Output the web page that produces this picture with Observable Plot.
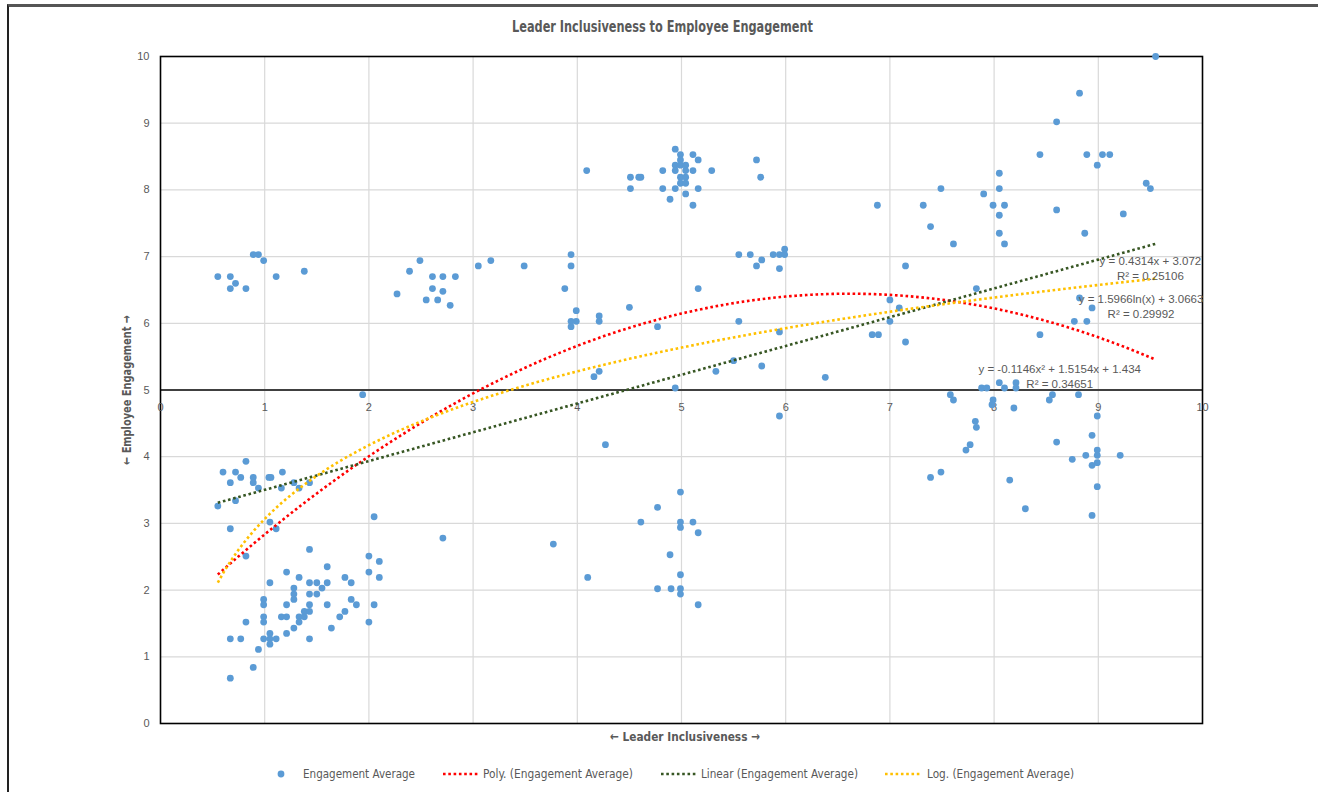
<!DOCTYPE html>
<html>
<head>
<meta charset="utf-8">
<script src="https://cdn.jsdelivr.net/npm/d3@7"></script>
<script src="https://cdn.jsdelivr.net/npm/@observablehq/plot@0.6"></script>
<style>
  html, body { margin: 0; padding: 0; background: #fff; }
  #wrap { position: relative; width: 1318px; height: 792px; overflow: hidden; background: #fff; }
  #wrap > svg { position: absolute; left: 0; top: 0; }
  #frame { position: absolute; left: 7px; top: 4px; width: 1330px; height: 800px;
           border-top: 3px solid #555; border-left: 2px solid #222; box-sizing: border-box; }
</style>
</head>
<body>
<div id="wrap"><div id="frame"></div></div>
<script>
// ---- data ----
const leaderInclusiveness = [
  0.60,0.72,0.82,0.67,0.77,0.89,0.89,1.04,1.06,1.17,0.94,1.16,1.28,1.33,1.43,0.72,0.55,2.05,1.05,0.67,
  1.11,2.71,0.82,1.43,2.00,2.10,1.60,1.21,2.00,2.10,1.33,1.77,1.05,1.43,1.50,1.60,1.83,1.28,1.55,1.28,
  1.28,1.43,1.50,0.99,1.83,0.99,1.21,1.43,1.60,1.88,2.05,1.38,1.43,1.77,0.99,1.16,1.21,1.33,1.38,1.72,
  0.82,0.99,1.33,2.00,1.28,1.64,1.05,1.21,0.67,0.77,0.99,1.05,1.11,1.43,1.05,0.94,0.89,0.67,
  0.55,0.67,0.72,0.67,0.82,0.89,0.94,0.99,1.11,1.38,1.94,2.27,2.39,2.49,2.61,2.71,2.83,2.61,2.71,2.55,
  2.66,2.78,3.05,3.17,3.49,
  4.09,4.51,4.51,4.59,4.61,4.82,4.82,4.89,4.94,4.99,4.99,4.94,4.99,5.04,4.94,5.04,5.11,4.99,5.04,4.99,
  5.04,4.94,5.16,5.04,5.11,5.11,5.16,5.29,5.72,5.76,
  3.94,3.94,3.88,5.16,4.50,3.99,3.94,3.99,3.94,4.21,4.21,4.77,5.55,5.66,5.72,5.77,5.88,5.94,5.99,5.99,
  5.94,5.55,5.94,5.50,5.33,5.77,4.16,4.21,4.94,5.94,
  4.27,4.99,4.77,4.61,4.99,5.11,4.99,5.16,3.77,4.89,4.99,4.10,4.77,4.90,4.99,4.99,5.16,
  9.55,8.82,8.60,8.44,8.89,9.04,9.11,8.99,8.05,7.49,8.05,7.90,9.46,9.50,6.88,7.32,7.99,8.10,8.05,8.60,
  9.24,7.39,8.05,8.87,7.61,8.10,7.15,7.83,7.00,7.09,7.00,6.83,6.89,7.15,8.82,8.94,8.77,8.89,8.44,
  6.38,7.58,7.61,7.82,7.83,7.73,7.77,7.39,7.49,
  7.88,7.93,8.05,8.10,8.21,8.21,7.99,7.98,8.19,8.56,8.53,8.81,8.99,8.60,8.94,8.99,8.88,8.99,9.21,8.75,
  8.94,8.99,8.15,8.99,8.30,8.94
];
const engagementAverage = [
  3.77,3.77,3.93,3.61,3.69,3.69,3.61,3.69,3.69,3.77,3.53,3.53,3.61,3.53,3.61,3.34,3.26,3.10,3.02,2.92,
  2.92,2.78,2.51,2.61,2.51,2.43,2.35,2.27,2.27,2.19,2.19,2.19,2.11,2.11,2.11,2.11,2.11,2.03,2.03,1.94,
  1.86,1.94,1.94,1.86,1.86,1.78,1.78,1.78,1.78,1.78,1.78,1.68,1.68,1.68,1.60,1.60,1.60,1.60,1.60,1.60,
  1.52,1.52,1.52,1.52,1.43,1.43,1.35,1.35,1.27,1.27,1.27,1.27,1.27,1.27,1.19,1.11,0.84,0.68,
  6.70,6.70,6.60,6.52,6.52,7.03,7.03,6.94,6.70,6.78,4.93,6.44,6.78,6.94,6.70,6.70,6.70,6.52,6.48,6.35,
  6.35,6.27,6.86,6.94,6.86,
  8.29,8.19,8.02,8.19,8.19,8.29,8.02,7.86,8.61,8.53,8.45,8.37,8.37,8.37,8.29,8.29,8.29,8.19,8.19,8.10,
  8.10,8.02,8.02,7.94,7.77,8.53,8.45,8.29,8.45,8.19,
  7.03,6.86,6.52,6.52,6.24,6.19,6.03,6.03,5.95,6.11,6.03,5.95,7.03,7.03,6.86,6.95,7.03,7.03,7.11,7.03,
  6.82,6.03,5.87,5.44,5.28,5.36,5.20,5.28,5.03,4.61,
  4.18,3.47,3.24,3.02,3.02,3.02,2.94,2.86,2.69,2.53,2.23,2.19,2.02,2.02,2.02,1.94,1.78,
  10.0,9.45,9.02,8.53,8.53,8.53,8.53,8.37,8.25,8.02,8.02,7.94,8.10,8.02,7.77,7.77,7.77,7.77,7.62,7.70,
  7.64,7.45,7.35,7.35,7.19,7.19,6.86,6.52,6.35,6.23,6.03,5.83,5.83,5.72,6.38,6.23,6.03,6.03,5.83,
  5.19,4.93,4.85,4.53,4.44,4.10,4.18,3.69,3.77,
  5.03,5.03,5.11,5.03,5.11,5.03,4.85,4.78,4.73,4.93,4.85,4.93,4.61,4.22,4.32,4.10,4.02,4.02,4.02,3.96,
  3.87,3.91,3.65,3.55,3.22,3.12
];
const xTicks = [0,1,2,3,4,5,6,7,8,9,10];
const yTicks = [0,1,2,3,4,5,6,7,8,9,10];
// trendline equations shown on the chart
const polyCoef = [1.434, 1.5154, -0.1146];   // c0 + c1 x + c2 x^2
const linearCoef = [3.072, 0.4314];          // c0 + c1 x
const logCoef = [3.0663, 1.5966];            // c0 + c1 ln(x)
const trendNames = ["Poly. (Engagement Average)", "Linear (Engagement Average)", "Log. (Engagement Average)"];
const trendColors = ["#FF0000", "#375623", "#FFC000"];
const eqLabels = [
  "y = -0.1146x\u00B2 + 1.5154x + 1.434\nR\u00B2 = 0.34651",
  "y = 0.4314x + 3.072\nR\u00B2 = 0.25106",
  "y = 1.5966ln(x) + 3.0663\nR\u00B2 = 0.29992"
];

// ---- build tables ----
const points = leaderInclusiveness.map((x, i) => ({x, y: engagementAverage[i]}));
const xMin = d3.min(leaderInclusiveness), xMax = d3.max(leaderInclusiveness);
const xs = d3.range(xMin, xMax, 0.05).concat([xMax]);
const fns = [
  x => polyCoef[0] + polyCoef[1]*x + polyCoef[2]*x*x,
  x => linearCoef[0] + linearCoef[1]*x,
  x => logCoef[0] + logCoef[1]*Math.log(x)
];
const trendRows = fns.map((f, k) => xs.map(x => ({x, y: f(x), k})));

const font = "'Liberation Sans', Arial, sans-serif";
const narrow = "'Liberation Sans Narrow', 'Arial Narrow', 'DejaVu Sans Condensed', 'Liberation Sans', sans-serif";
const gray = "#595959";
const dash = "2.6 2.7";

const chart = Plot.plot({
  width: 1318, height: 792,
  marginLeft: 160, marginRight: 116, marginTop: 56, marginBottom: 69,
  style: {fontFamily: font, fontSize: "11px", color: gray, background: "transparent"},
  x: {domain: [0, 10], axis: null},
  y: {domain: [0, 10], ticks: yTicks, tickSize: 0, tickPadding: 11, label: null, tickFormat: d => d},
  marks: [
    Plot.ruleX(xTicks.slice(1, -1), {stroke: "#d9d9d9", strokeWidth: 1.2}),
    Plot.ruleY(yTicks.slice(1, -1), {stroke: "#d9d9d9", strokeWidth: 1.2}),
    Plot.ruleY([5], {stroke: "#404040", strokeWidth: 2}),
    Plot.frame({stroke: "#000", strokeWidth: 1.6}),
    Plot.text(xTicks, {x: d => d, y: () => 5, dy: 17, text: d => String(d), fill: gray, fontSize: 11}),
    Plot.dot(points, {x: "x", y: "y", r: 3.4, fill: "#5B9BD5", stroke: "none"}),
    ...trendRows.map((rows, k) => Plot.line(rows, {
      x: "x", y: "y", stroke: trendColors[k], strokeWidth: 2.6,
      strokeDasharray: dash, strokeLinecap: "butt", strokeLinejoin: "miter"
    })),
    Plot.text([eqLabels[1]], {x: () => 9.50, y: () => 6.84, text: d => d, fill: gray, fontSize: 11.5, lineHeight: 1.3, textAnchor: "middle"}),
    Plot.text([eqLabels[2]], {x: () => 9.41, y: () => 6.27, text: d => d, fill: gray, fontSize: 11.5, lineHeight: 1.3, textAnchor: "middle"}),
    Plot.text([eqLabels[0]], {x: () => 8.63, y: () => 5.22, text: d => d, fill: gray, fontSize: 11.5, lineHeight: 1.3, textAnchor: "middle"})
  ]
});
document.getElementById("wrap").appendChild(chart);

// ---- titles and legend ----
const ov = d3.select("#wrap").append("svg")
  .attr("width", 1318).attr("height", 792)
  .style("font-family", narrow);

ov.append("text").text("Leader Inclusiveness to Employee Engagement")
  .attr("x", 662.5).attr("y", 32).attr("text-anchor", "middle")
  .attr("fill", gray).attr("font-size", 15).attr("font-weight", "bold")
  .attr("textLength", 301).attr("lengthAdjust", "spacingAndGlyphs");

ov.append("text").text("\u2190 Leader Inclusiveness \u2192")
  .attr("x", 685).attr("y", 741).attr("text-anchor", "middle")
  .attr("fill", gray).attr("font-size", 13).attr("font-weight", "bold")
  .attr("textLength", 150).attr("lengthAdjust", "spacingAndGlyphs");

ov.append("text").text("\u2190 Employee Engagement \u2192")
  .attr("transform", "translate(131,390) rotate(-90)").attr("text-anchor", "middle")
  .attr("fill", gray).attr("font-size", 13).attr("font-weight", "bold")
  .attr("textLength", 150).attr("lengthAdjust", "spacingAndGlyphs");

const ly = 774;
const lg = ov.append("g").attr("font-size", 12).attr("fill", gray);
lg.append("circle").attr("cx", 281).attr("cy", ly).attr("r", 3.4).attr("fill", "#5B9BD5");
lg.append("text").text("Engagement Average").attr("x", 303).attr("y", ly + 4)
  .attr("textLength", 112).attr("lengthAdjust", "spacingAndGlyphs");
const items = [
  {k: 0, x0: 443, tx: 483, tw: 150},
  {k: 1, x0: 661, tx: 701, tw: 157},
  {k: 2, x0: 885, tx: 927, tw: 147}
];
items.forEach(it => {
  lg.append("line").attr("x1", it.x0).attr("x2", it.x0 + 35).attr("y1", ly).attr("y2", ly)
    .attr("stroke", trendColors[it.k]).attr("stroke-width", 2.6).attr("stroke-dasharray", dash);
  lg.append("text").text(trendNames[it.k]).attr("x", it.tx).attr("y", ly + 4)
    .attr("textLength", it.tw).attr("lengthAdjust", "spacingAndGlyphs");
});
</script>
</body>
</html>
